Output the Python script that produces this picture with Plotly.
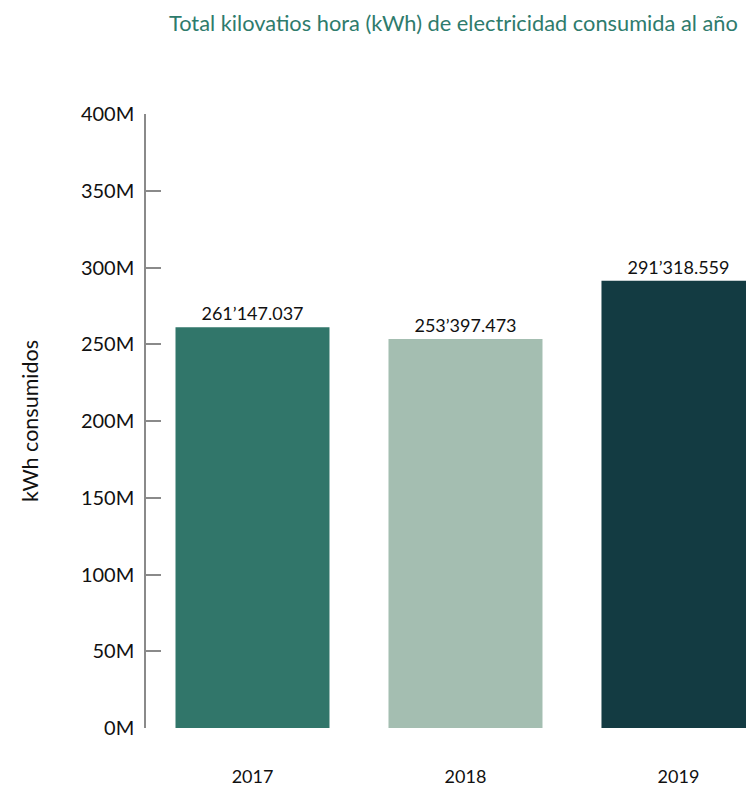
import plotly.graph_objects as go

years = ["2017", "2018", "2019"]
consumo_kwh = [261147037, 253397473, 291318559]
etiquetas = ["261’147.037", "253’397.473", "291’318.559"]
colores = ["#31766a", "#a4beb1", "#133b42"]
y_ticks = [0, 50e6, 100e6, 150e6, 200e6, 250e6, 300e6, 350e6, 400e6]
y_ticktext = ["0M", "50M", "100M", "150M", "200M", "250M", "300M", "350M", "400M"]

FONT = "Lato"

fig = go.Figure(
    go.Bar(
        x=years,
        y=consumo_kwh,
        text=etiquetas,
        textposition="outside",
        textfont=dict(family=FONT, size=18, color="#111111"),
        marker=dict(color=colores, line=dict(width=0)),
        cliponaxis=False,
        hoverinfo="skip",
    )
)

fig.update_layout(
    width=746,
    height=790,
    margin=dict(l=146, r=0, t=114, b=62),
    paper_bgcolor="white",
    plot_bgcolor="white",
    bargap=0.277,
    showlegend=False,
    font=dict(family=FONT, size=19, color="#111111"),
    xaxis=dict(
        type="category",
        range=[-0.5, 2.317],
        showline=False,
        showgrid=False,
        zeroline=False,
        ticks="",
        ticklabelstandoff=36,
        tickfont=dict(family=FONT, size=18, color="#111111"),
        fixedrange=True,
    ),
    yaxis=dict(
        range=[0, 400e6],
        tickvals=y_ticks,
        ticktext=y_ticktext,
        showline=True,
        linecolor="#8a8a8a",
        linewidth=1.5,
        ticks="inside",
        ticklen=15,
        tickwidth=1.5,
        tickcolor="#8a8a8a",
        ticklabelstandoff=6,
        showgrid=False,
        zeroline=False,
        tickfont=dict(family=FONT, size=20, color="#111111"),
        title=dict(text="kWh consumidos", font=dict(family=FONT, size=21.5, color="#111111"), standoff=36),
        fixedrange=True,
    ),
    annotations=[
        dict(
            text="Total kilovatios hora (kWh) de electricidad consumida al año",
            xref="paper", yref="paper",
            x=1, y=1, xanchor="right", yanchor="middle",
            xshift=-6, yshift=114 - 22,
            showarrow=False,
            font=dict(family=FONT, size=21.8, color="#2e7b6c"),
        )
    ],
)

fig.write_html(
    "out.html",
    config={"displayModeBar": False},
    post_script="document.body.style.margin='0';document.body.style.overflow='hidden';",
)
